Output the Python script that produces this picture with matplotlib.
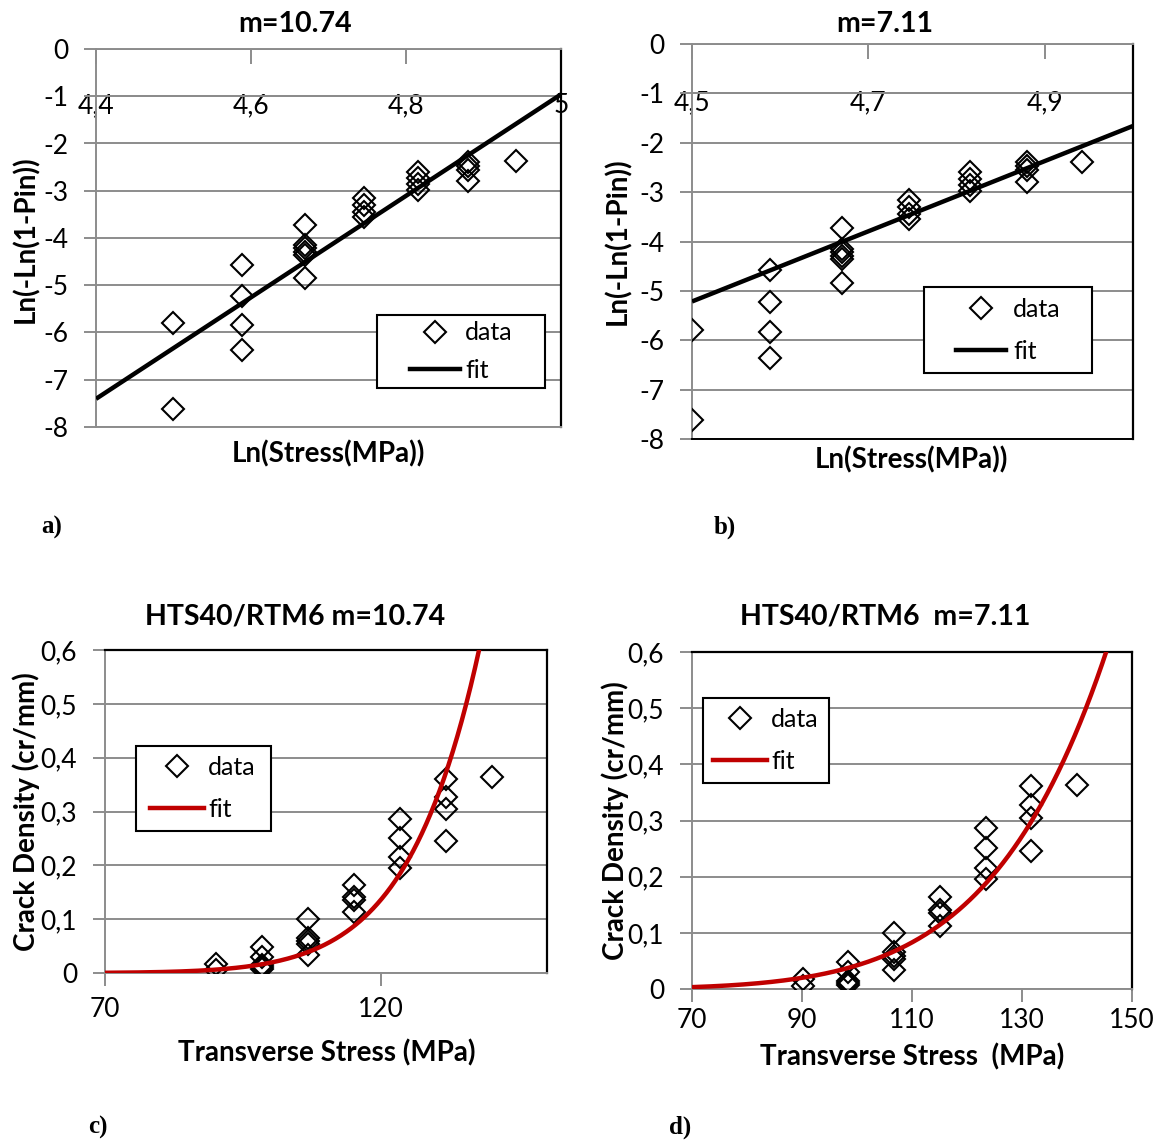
import numpy as np
import matplotlib
matplotlib.use("Agg")
import matplotlib.pyplot as plt
from matplotlib.ticker import FuncFormatter
from matplotlib.legend_handler import HandlerLine2D
from matplotlib.lines import Line2D

plt.rcParams['font.family'] = ['Lato', 'DejaVu Sans']
plt.rcParams['axes.unicode_minus'] = False

# ---------------- data ----------------
# Weibull plot (panels a, b): stress level (MPa) of each point and Ln(-Ln(1-Pin))
weibull_stress = [90.0, 90.0,
                  98.3, 98.3, 98.3, 98.3,
                  106.7, 106.7, 106.7, 106.7, 106.7, 106.7,
                  115.1, 115.1, 115.1, 115.1,
                  123.4, 123.4, 123.4, 123.4,
                  131.6, 131.6, 131.6, 131.6,
                  140.0]
weibull_y = [-5.79, -7.61,
             -4.57, -5.22, -5.84, -6.36,
             -3.72, -4.15, -4.22, -4.29, -4.35, -4.84,
             -3.16, -3.31, -3.45, -3.55,
             -2.60, -2.73, -2.86, -2.98,
             -2.39, -2.47, -2.56, -2.79,
             -2.38]

# Crack density (panels c, d)
cd_stress = [90.1, 90.1,
             98.4, 98.4, 98.4, 98.4, 98.4,
             106.7, 106.7, 106.7, 106.7, 106.7,
             115.1, 115.1, 115.1, 115.1,
             123.4, 123.4, 123.4, 123.4,
             131.7, 131.7, 131.7, 131.7,
             140.0]
crack_density = [0.017, 0.006,
                 0.048, 0.030, 0.015, 0.011, 0.008,
                 0.100, 0.065, 0.059, 0.054, 0.033,
                 0.164, 0.141, 0.136, 0.113,
                 0.286, 0.251, 0.216, 0.195,
                 0.361, 0.327, 0.305, 0.245,
                 0.364]

# fit parameters
weibull_m = [10.74, 7.11]
weibull_intercept = [-54.66, -37.21]
cd_ref_stress = [137.7, 145.3]   # stress at which fit reaches 0.6 cr/mm
cd_ref_density = 0.6

titles_top = ["m=10.74", "m=7.11"]
titles_bottom = ["HTS40/RTM6 m=10.74", "HTS40/RTM6  m=7.11"]
xlabels_bottom = ["Transverse Stress (MPa)", "Transverse Stress  (MPa)"]
panel_tags = ["a)", "b)", "c)", "d)"]

# ---------------- figure ----------------
W, H = 1164, 1142
fig = plt.figure(figsize=(W / 100, H / 100), dpi=100)
GRID = '#8c8c8c'
RED = '#c00000'
TICK_FS = 19
LEG_FS = 18
LAB_FS = 20
TITLE_FS = 20.5
MS = 10.8


def add_ax(l, t, r, b):
    return fig.add_axes([l / W, 1 - b / H, (r - l) / W, (b - t) / H])


def comma(v, pos=None):
    if abs(v) < 1e-9:
        return "0"
    return f"{v:g}".replace('.', ',')


def comma1(v, pos=None):
    if abs(v) < 1e-9:
        return "0"
    return f"{v:.1f}".replace('.', ',')


def to_axes(ax, px, py):
    """pixel (from top-left of figure) -> axes fraction"""
    inv = ax.transAxes.inverted()
    return inv.transform(fig.transFigure.transform((px / W, 1 - py / H)))


def place_legend(ax, box, line_l, line_r, text_l, borderpad, labelspacing, color):
    box_l, box_t, box_r = box
    fs_px = LEG_FS * 100 / 72
    content_l = box_l + borderpad * fs_px
    xpad = (line_l - content_l) / fs_px
    hl = (line_r - content_l) / fs_px
    htp = (text_l - line_r) / fs_px
    h_data = Line2D([], [], ls='none', marker='D', ms=MS, mfc='none',
                    mec='black', mew=1.5)
    h_fit = Line2D([], [], color=color, lw=3.2)
    leg = ax.legend([h_data, h_fit], ["data", "fit"], loc='upper left',
                    bbox_to_anchor=(box_l / W, 1 - box_t / H - 0.01,
                                    (box_r - box_l) / W, 0.01),
                    bbox_transform=fig.transFigure, mode='expand',
                    borderaxespad=0, borderpad=borderpad,
                    labelspacing=labelspacing, handlelength=hl,
                    handletextpad=htp, numpoints=1, fontsize=LEG_FS,
                    fancybox=False, framealpha=1, edgecolor='black',
                    handler_map={Line2D: HandlerLine2D(xpad=xpad)})
    leg.get_frame().set_linewidth(1.5)
    return leg


def weibull_panel(ax, xlim, xticks, k, title, title_xy, xlab_xy, ylab_xy,
                  bottom_color, leg_spec):
    lnx = np.log(weibull_stress)
    ax.set_xlim(*xlim)
    ax.set_ylim(-8, 0)
    ax.set_yticks(np.arange(-8, 1, 1))
    ax.yaxis.set_major_formatter(FuncFormatter(comma))
    ax.grid(axis='y', color=GRID, lw=1.4)
    ax.set_axisbelow(True)
    ax.tick_params(axis='y', length=9, width=1.4, color=GRID, pad=11,
                   labelsize=TICK_FS)
    ax.set_xticks(xticks)
    ax.tick_params(axis='x', top=True, bottom=False, labeltop=False,
                   labelbottom=False, direction='in', length=11, width=1.4,
                   color=GRID)
    for s in ['left', 'top']:
        ax.spines[s].set_color(GRID)
        ax.spines[s].set_linewidth(1.4)
    ax.spines['bottom'].set_color(bottom_color)
    ax.spines['bottom'].set_linewidth(1.4)
    ax.spines['right'].set_color('black')
    ax.spines['right'].set_linewidth(1.6)

    sec = ax.secondary_xaxis(-1, transform=ax.transData)
    sec.set_xticks(xticks)
    sec.xaxis.set_major_formatter(FuncFormatter(comma))
    sec.tick_params(length=0, pad=-2, labelsize=TICK_FS)
    for s in ['top', 'bottom']:
        sec.spines[s].set_color(GRID)
        sec.spines[s].set_linewidth(1.4)

    ax.plot(lnx, weibull_y, ls='none', marker='D', ms=MS, mfc='none',
            mec='black', mew=1.5, zorder=3)
    xf = np.linspace(xlim[0], xlim[1], 50)
    ax.plot(xf, weibull_m[k] * xf + weibull_intercept[k], color='black',
            lw=3.2, zorder=4, solid_capstyle='butt')

    fig.text(title_xy[0] / W, 1 - title_xy[1] / H, title, ha='center',
             va='center', fontsize=TITLE_FS, fontweight='bold')
    ax.set_xlabel("Ln(Stress(MPa))", fontsize=LAB_FS, fontweight='bold')
    ax.xaxis.set_label_coords(*to_axes(ax, *xlab_xy))
    ax.xaxis.label.set_va('center')
    ax.set_ylabel("Ln(-Ln(1-Pin))", fontsize=LAB_FS, fontweight='bold')
    ax.yaxis.set_label_coords(*to_axes(ax, *ylab_xy))
    ax.yaxis.label.set_va('center')
    place_legend(ax, *leg_spec, color='black')


def crack_panel(ax, xticks, k, xlpad, title_xy, xlab_xy, ylab_xy, leg_spec):
    ax.set_xlim(70, 150)
    ax.set_ylim(0, 0.6)
    ax.set_yticks(np.linspace(0, 0.6, 7))
    ax.yaxis.set_major_formatter(FuncFormatter(comma1))
    ax.set_xticks(xticks)
    ax.xaxis.set_major_formatter(FuncFormatter(comma))
    ax.grid(axis='y', color=GRID, lw=1.4)
    ax.set_axisbelow(True)
    ax.tick_params(axis='y', length=9, width=1.4, color=GRID, pad=11,
                   labelsize=TICK_FS)
    ax.tick_params(axis='x', length=9, width=1.4, color=GRID, pad=xlpad,
                   labelsize=TICK_FS)
    for s in ['left', 'bottom']:
        ax.spines[s].set_color(GRID)
        ax.spines[s].set_linewidth(1.4)
    for s in ['top', 'right']:
        ax.spines[s].set_color('black')
        ax.spines[s].set_linewidth(1.6)

    ax.plot(cd_stress, crack_density, ls='none', marker='D', ms=MS,
            mfc='none', mec='black', mew=1.5, zorder=3)
    sf = np.linspace(70, 150, 400)
    rho = cd_ref_density * (sf / cd_ref_stress[k]) ** weibull_m[k]
    ax.plot(sf, rho, color=RED, lw=3.2, zorder=4)

    fig.text(title_xy[0] / W, 1 - title_xy[1] / H, titles_bottom[k],
             ha='center', va='center', fontsize=TITLE_FS, fontweight='bold')
    ax.set_xlabel(xlabels_bottom[k], fontsize=LAB_FS, fontweight='bold')
    ax.xaxis.set_label_coords(*to_axes(ax, *xlab_xy))
    ax.xaxis.label.set_va('center')
    ax.set_ylabel("Crack Density (cr/mm)", fontsize=LAB_FS, fontweight='bold')
    ax.yaxis.set_label_coords(*to_axes(ax, *ylab_xy))
    ax.yaxis.label.set_va('center')
    place_legend(ax, *leg_spec, color=RED)


ax_a = add_ax(96, 49, 561, 427)
weibull_panel(ax_a, (4.4, 5.0), [4.4, 4.6, 4.8, 5.0], 0, titles_top[0],
              (295, 24), (328, 454), (26, 239), GRID,
              ((377, 315, 545), 410, 460, 465, 0.26, 0.56))

ax_b = add_ax(692, 44, 1133, 439)
weibull_panel(ax_b, (4.5, 5.0), [4.5, 4.7, 4.9], 1, titles_top[1],
              (885, 24), (911, 460), (618, 241), 'black',
              ((924, 287, 1092), 956, 1006, 1013, 0.42, 0.76))

ax_c = add_ax(105, 650, 547, 973)
crack_panel(ax_c, [70, 120], 0, 8, (295, 617), (327, 1053), (26, 812),
            ((136, 746, 271), 150, 204, 208, 0.4, 0.76))

ax_d = add_ax(692, 652, 1132, 989)
crack_panel(ax_d, [70, 90, 110, 130, 150], 1, 5, (885, 617), (912, 1057),
            (615, 821), ((703, 698, 829), 713, 767, 771, 0.4, 0.76))

for tag, (px, py) in zip(panel_tags, [(52, 527), (725, 527), (98, 1127), (680, 1127)]):
    fig.text(px / W, 1 - py / H, tag, ha='center', va='center', fontsize=18,
             fontweight='bold', family=['Liberation Serif', 'DejaVu Serif'])

fig.savefig("out.png", dpi=100)
